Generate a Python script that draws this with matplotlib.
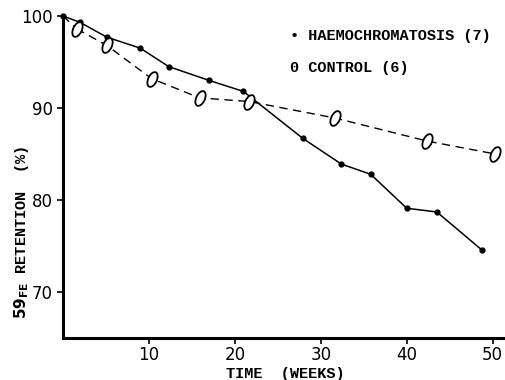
import matplotlib
matplotlib.use('Agg')
import matplotlib.pyplot as plt
from matplotlib.path import Path
from matplotlib.transforms import Affine2D

# haemochromatosis (solid, dots)
haem_weeks = [0, 2, 5.1, 9.0, 12.3, 17.0, 21.0, 27.9, 32.4, 35.8, 40.0, 43.5, 48.7]
haem_ret = [100, 99.3, 97.7, 96.5, 94.5, 93.0, 91.8, 86.7, 83.9, 82.8, 79.1, 78.7, 74.6]

# control (dashed, open "0")
ctrl_weeks = [0, 1.6, 5.1, 10.3, 15.9, 21.7, 31.7, 42.4, 50.3]
ctrl_ret = [100, 98.6, 96.8, 93.2, 91.1, 90.7, 88.9, 86.4, 85.0]

xticks = [10, 20, 30, 40, 50]
yticks = [70, 80, 90, 100]

lab_font = dict(family='Liberation Mono', weight='bold')

# tilted oval marker like a typed "0"
oval = Affine2D().scale(0.55, 1.0).rotate_deg(-25).transform_path(Path.unit_circle())

fig = plt.figure(figsize=(5.05, 3.8), dpi=100)
ax = fig.add_axes([63/505, 42/380, 440/505, 322/380])

ax.plot(haem_weeks, haem_ret, color='black', lw=1.1, marker='o', ms=3.5, clip_on=False)
ax.plot(ctrl_weeks[:2], ctrl_ret[:2], color='black', lw=1.0, ls=(0, (6, 4)), clip_on=False)
ax.plot(ctrl_weeks[1:], ctrl_ret[1:], color='black', lw=1.0, ls=(0, (6, 4)), marker=oval,
        ms=11, mfc='white', mec='black', mew=1.3, clip_on=False)

ax.set_xlim(0, 51.2)
ax.set_ylim(65, 100)
ax.set_xticks(xticks)
ax.set_yticks(yticks)
for s in ['top', 'right']:
    ax.spines[s].set_visible(False)
for s in ['left', 'bottom']:
    ax.spines[s].set_linewidth(2.2)
ax.tick_params(axis='both', labelsize=12, width=1.2, length=4)
ax.tick_params(axis='x', pad=2)

fig.text(290/505, 1 - 36/380, '\u2022 HAEMOCHROMATOSIS (7)', fontsize=11, va='center', **lab_font)
fig.text(290/505, 1 - 68/380, '0 CONTROL (6)', fontsize=11, va='center', **lab_font)

fig.text(285/505, 1 - 374/380, 'TIME  (WEEKS)', fontsize=11, ha='center', va='center', **lab_font)
fig.text(22/505, 1 - 232/380, r'$\mathbf{59}_{\mathbf{FE}}$ RETENTION  (%)', fontsize=11,
         rotation=90, ha='center', va='center', **lab_font)

fig.savefig('out.png', dpi=100)
